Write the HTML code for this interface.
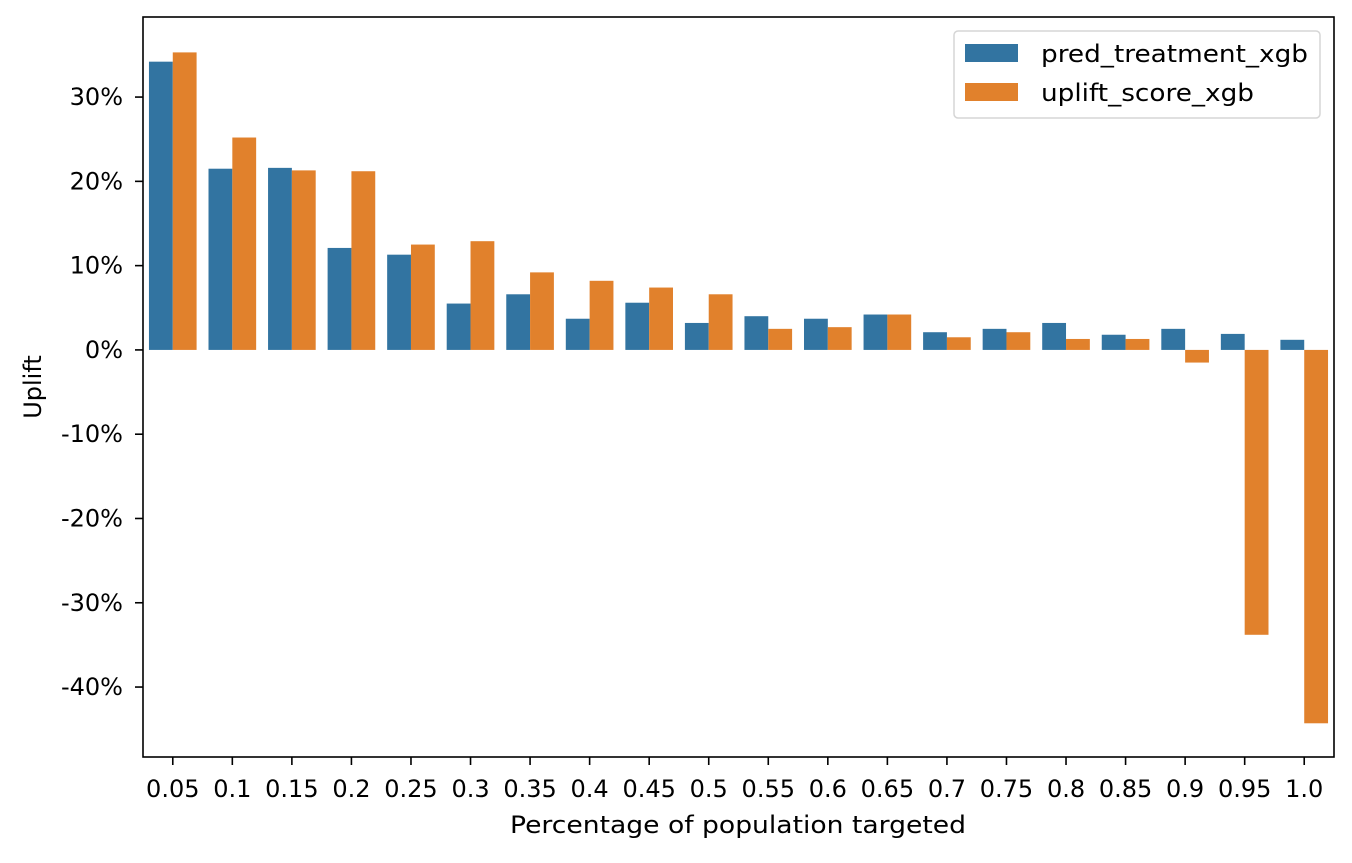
<!DOCTYPE html>
<html><head><meta charset="utf-8"><style>
body{margin:0;background:#fff;}
svg text{font-family:"DejaVu Sans","Liberation Sans",sans-serif;fill:#000;}
</style></head><body>
<svg width="1352" height="858" id="chart"></svg>
<script>
const categories=["0.05","0.1","0.15","0.2","0.25","0.3","0.35","0.4","0.45","0.5","0.55","0.6","0.65","0.7","0.75","0.8","0.85","0.9","0.95","1.0"];
const predTreatment=[34.2,21.5,21.6,12.1,11.3,5.5,6.6,3.7,5.6,3.2,4.0,3.7,4.2,2.1,2.5,3.2,1.8,2.5,1.9,1.2];
const upliftScore=[35.3,25.2,21.3,21.2,12.5,12.9,9.2,8.2,7.4,6.6,2.5,2.7,4.2,1.5,2.1,1.3,1.3,-1.5,-33.8,-44.3];
const yTicks=[-40,-30,-20,-10,0,10,20,30];
const NS="http://www.w3.org/2000/svg";
const svg=document.getElementById('chart');
const L=143,R=1334,T=17,B=757,yMin=-48.3,yMax=39.5;
const FS=24;
const y=v=>T+(yMax-v)/(yMax-yMin)*(B-T);
const slot=(R-L)/categories.length;
const xc=i=>L+slot*(i+0.5);
function mk(tag,attrs,parent){const e=document.createElementNS(NS,tag);for(const k in attrs)e.setAttribute(k,attrs[k]);(parent||svg).appendChild(e);return e;}
const bars=mk('g',{});


const bw=slot*0.4;
categories.forEach((c,i)=>{
  [[predTreatment[i],'#3274a1',-bw],[upliftScore[i],'#e1812c',0]].forEach(([v,col,off],s)=>{
    const r=mk('rect',{x:xc(i)+off,y:Math.min(y(v),y(0)),width:bw,height:Math.abs(y(v)-y(0)),fill:col},bars);
    
    
  });
  const t=mk('line',{x1:xc(i),x2:xc(i),y1:B,y2:B+8,stroke:'#000','stroke-width':1.6});
  
  
  const tx=mk('text',{x:xc(i),y:797,'text-anchor':'middle','font-size':FS});
  tx.textContent=c;
  
  
});
yTicks.forEach(v=>{
  const t=mk('line',{x1:L-8,x2:L,y1:y(v),y2:y(v),stroke:'#000','stroke-width':1.6});
  
  
  const tx=mk('text',{x:L-20,y:y(v)+8,'text-anchor':'end','font-size':FS});
  tx.textContent=v+'%';
  
  
});
const fr=mk('rect',{x:L,y:T,width:R-L,height:B-T,fill:'none',stroke:'#000','stroke-width':1.6});


const xl=mk('text',{x:510,y:833,'font-size':FS,textLength:456,lengthAdjust:'spacingAndGlyphs'});
xl.textContent='Percentage of population targeted';


const cy=(T+B)/2;
const yl=mk('text',{x:41,y:cy,'text-anchor':'middle','font-size':FS,transform:`rotate(-90 41 ${cy})`});
yl.textContent='Uplift';


const lg=mk('g',{});


mk('rect',{x:954,y:31,width:366,height:87,rx:4,fill:'#fff',stroke:'#d5d5d5','stroke-width':1.5},lg);
[['pred_treatment_xgb','#3274a1',44,267],['uplift_score_xgb','#e1812c',83,213]].forEach(([n,c,yy,w])=>{
  mk('rect',{x:965,y:yy,width:53,height:18,fill:c},lg);
  const t=mk('text',{x:1041,y:yy+18,'font-size':FS,textLength:w,lengthAdjust:'spacingAndGlyphs'},lg);
  t.textContent=n;
  
  
});
</script>
</body></html>
